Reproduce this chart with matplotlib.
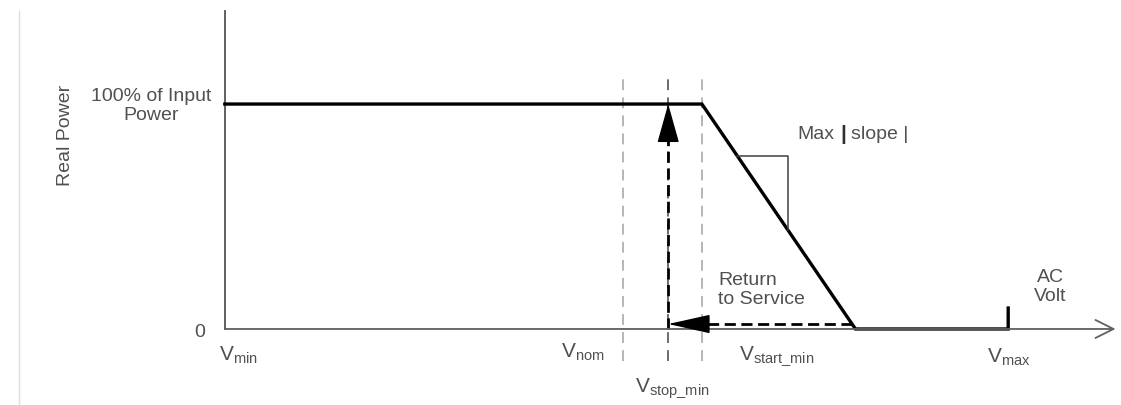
import matplotlib
matplotlib.use('Agg')
import matplotlib.pyplot as plt

plt.rcParams['font.family'] = ['Liberation Sans', 'DejaVu Sans']
plt.rcParams['mathtext.fontset'] = 'custom'
plt.rcParams['mathtext.rm'] = 'Liberation Sans'
plt.rcParams['mathtext.it'] = 'Liberation Sans'

# voltage break points (V_min = 0, V_max = 100, arbitrary units)
v_min = 0.0
v_nom = 50.8
v_stop_min = 56.6
v_start_min = 60.9
v_ramp_end = 80.5
v_max = 100.0
v_axis_end = 113.7

# real power in % of input power
p_full = 100.0
p_zero = 0.0

# curtailment curve
curve_v = [v_min, v_start_min, v_ramp_end, v_max, v_max]
curve_p = [p_full, p_full, p_zero, p_zero, 9.3]

guide_v = [v_nom, v_stop_min, v_start_min]
guide_colors = ['#b0b0b0', '#606060', '#b0b0b0']

txt = '#505050'

fig = plt.figure(figsize=(11.21, 4.06), dpi=100)
ax = fig.add_axes([0, 0, 1, 1])
ax.set_xlim(-28.7, 114.4)
ax.set_ylim(-33.8, 146.7)
ax.axis('off')

# thin frame line on the far left
ax.plot([-26.3, -26.3], [-33.8, 141.3], color='#dddddd', lw=1)

# axes
ax.plot([v_min, v_min], [p_zero, 141.3], color='#606060', lw=1.4)
ax.annotate('', xy=(v_axis_end, p_zero), xytext=(v_min, p_zero),
            arrowprops=dict(arrowstyle='->,head_length=1.3,head_width=0.65',
                            color='#606060', lw=1.3, shrinkA=0, shrinkB=0))

# dashed guide lines
for v, c in zip(guide_v, guide_colors):
    ax.plot([v, v], [-14.2, 112.4], color=c, lw=1.3, ls=(0, (6, 4)))

# main curve
ax.plot(curve_v, curve_p, color='black', lw=2.4, solid_joinstyle='miter')

# slope marker
slope = (p_full - p_zero) / (v_ramp_end - v_start_min)
p_mark = 76.9
v_a = v_start_min + (p_full - p_mark) / slope
v_b = 71.9
ax.plot([v_a, v_b, v_b], [p_mark, p_mark, p_full - (v_b - v_start_min) * slope],
        color='#404040', lw=1.1)

# return to service: dashed shafts, solid heads
p_back = 2.2
ax.plot([v_stop_min, v_stop_min], [p_zero, p_full - 8], color='black', lw=2,
        ls=(0, (4, 2)))
ax.plot([v_ramp_end - 0.5, v_stop_min + 2], [p_back, p_back], color='black', lw=2,
        ls=(0, (4, 2)))
head = dict(arrowstyle='-|>,head_length=2.5,head_width=0.7', color='black',
            lw=1, shrinkA=0, shrinkB=0)
ax.annotate('', xy=(v_stop_min, p_full), xytext=(v_stop_min, p_full - 16),
            arrowprops=head)
head = dict(arrowstyle='-|>,head_length=2.7,head_width=0.6', color='black',
            lw=1, shrinkA=0, shrinkB=0)
ax.annotate('', xy=(v_stop_min, p_back), xytext=(v_stop_min + 4.8, p_back),
            arrowprops=head)

fs = 14
ax.text(-20.4, 86.7, 'Real Power', rotation=90, ha='center', va='center',
        color=txt, fontsize=fs)
ax.text(-9.45, 99.6, '100% of Input\nPower', ha='center', va='center',
        color=txt, fontsize=fs, linespacing=1.2)
ax.text(-3.2, -1.3, '0', ha='center', va='center', color=txt, fontsize=fs)

v_labels = [r'$\mathrm{V_{min}}$', r'$\mathrm{V_{nom}}$', r'$\mathrm{V_{stop\_min}}$',
            r'$\mathrm{V_{start\_min}}$', r'$\mathrm{V_{max}}$']
v_label_x = [1.7, 45.7, 57.1, 70.5, 100.1]
v_label_y = [-11.5, -10.0, -26.0, -11.5, -12.0]
for s, x, y in zip(v_labels, v_label_x, v_label_y):
    ax.text(x, y, s, ha='center', va='center', color=txt, fontsize=fs + 1)

ax.text(73.1, 86.7, 'Max', ha='left', va='center', color=txt, fontsize=fs)
ax.text(78.6, 86.7, '|', ha='left', va='center', color='#303030',
        fontsize=fs + 1, fontweight='bold')
ax.text(79.9, 86.7, 'slope |', ha='left', va='center', color=txt, fontsize=fs)
ax.text(63.0, 17.8, 'Return\nto Service', ha='left', va='center',
        color=txt, fontsize=fs, linespacing=1.2)
ax.text(105.4, 19.1, 'AC\nVolt', ha='center', va='center',
        color=txt, fontsize=fs, linespacing=1.2)

fig.savefig('out.png', dpi=100)
